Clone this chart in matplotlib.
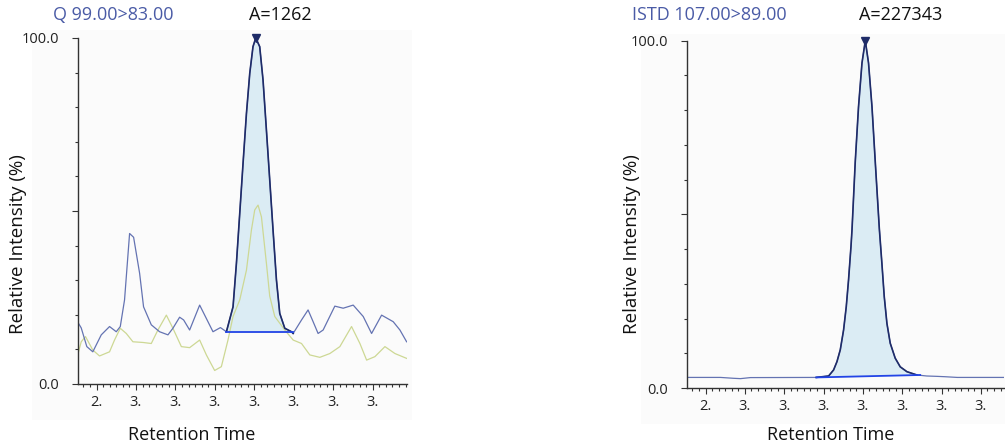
import numpy as np
import matplotlib.pyplot as plt
from matplotlib.patches import Rectangle

plt.rcParams['font.family'] = ['Open Sans', 'DejaVu Sans']

# Chart data
# Q 99.00>83.00 (quantifier, blue) and qualifier (yellow-green)
q_rt = [2.9272, 2.9306, 2.9377, 2.9453, 2.9560, 2.9665, 2.9750, 2.9801, 2.9855,
        2.9919, 2.9970, 3.0046, 3.0096, 3.0194, 3.0299, 3.0405, 3.0468, 3.0553,
        3.0604, 3.0680, 3.0807, 3.0976, 3.1070, 3.1146, 3.1230, 3.1273, 3.1315,
        3.1357, 3.1400, 3.1442, 3.1483, 3.1518, 3.1568, 3.1610, 3.1653, 3.1695,
        3.1737, 3.1780, 3.1822, 3.1886, 3.1971, 3.1992, 3.2098, 3.2181, 3.2245,
        3.2308, 3.2372, 3.2520, 3.2626, 3.2753, 3.2880, 3.2986, 3.3113, 3.3260,
        3.3345, 3.3430]
q_int = [17.5, 16.2, 10.8, 9.3, 14.2, 16.6, 15.1, 16.6, 24.3,
         43.5, 42.4, 32.0, 22.3, 17.1, 15.1, 14.2, 16.1, 19.3,
         18.5, 15.6, 22.8, 15.1, 16.3, 15.1, 22.3, 34.9, 49.3,
         63.8, 78.2, 89.8, 97.5, 100.0, 97.5, 87.9, 73.4, 59.0,
         44.5, 30.1, 20.4, 16.1, 15.1, 14.6, 18.5, 21.4, 18.0,
         14.6, 15.6, 22.5, 21.9, 22.8, 19.5, 14.6, 19.9, 18.0,
         15.6, 12.2]

qual_rt = [2.9272, 2.9306, 2.9360, 2.9453, 2.9538, 2.9665, 2.9728, 2.9801, 2.9877,
           2.9961, 3.0088, 3.0194, 3.0278, 3.0385, 3.0468, 3.0575, 3.0680, 3.0807,
           3.0892, 3.0997, 3.1082, 3.1166, 3.1230, 3.1315, 3.1400, 3.1463, 3.1505,
           3.1547, 3.1590, 3.1653, 3.1695, 3.1759, 3.1886, 3.1992, 3.2098, 3.2203,
           3.2330, 3.2457, 3.2584, 3.2732, 3.2838, 3.2923, 3.3028, 3.3155, 3.3282,
           3.3430]
qual_int = [9.3, 12.2, 13.7, 9.8, 8.1, 9.3, 12.7, 16.1, 14.6,
            12.2, 12.0, 11.7, 15.6, 19.9, 16.1, 10.8, 10.5, 12.7,
            8.4, 3.9, 5.0, 12.7, 19.5, 24.3, 32.9, 44.5, 50.3,
            51.7, 48.3, 34.9, 25.4, 19.5, 15.6, 12.7, 11.7, 8.4,
            7.7, 8.8, 10.8, 16.6, 11.7, 6.9, 7.9, 10.8, 8.8,
            7.4]

q_start, q_end = 3.1146, 3.1992
q_base = [14.9, 14.9]
q_apex = 3.1520

# ISTD 107.00>89.00
istd_rt = [2.9272, 2.9690, 2.9855, 2.9944, 3.0071, 3.0909, 3.1065, 3.1128, 3.1171,
           3.1213, 3.1255, 3.1289, 3.1318, 3.1349, 3.1362, 3.1403, 3.1445, 3.1489,
           3.1531, 3.1572, 3.1616, 3.1658, 3.1709, 3.1742, 3.1772, 3.1806, 3.1848,
           3.1911, 3.1975, 3.2060, 3.2187, 3.2313, 3.2450, 3.2546, 3.2700, 3.3294]
istd_int = [3.05, 3.05, 2.8, 2.7, 3.0, 3.05, 3.46, 5.2, 7.6,
            11.0, 16.7, 23.4, 31.1, 40.7, 45.5, 65.0, 81.0, 93.6,
            100.0, 93.6, 81.0, 65.0, 46.0, 35.9, 26.3, 18.6, 12.9,
            8.6, 6.1, 4.7, 3.75, 3.46, 3.35, 3.25, 3.05, 3.05]
istd_start, istd_end = 3.0909, 3.2229
istd_base = [3.05, 3.75]
istd_apex = 3.1531

tick_pos = [2.95, 3.00, 3.05, 3.10, 3.15, 3.20, 3.25, 3.30]
tick_lab = ['2.', '3.', '3.', '3.', '3.', '3.', '3.', '3.']

trace_c = '#6473b2'
peak_c = '#1f2c68'
fill_c = '#dbecf4'
base_c = '#2244e6'
qual_c = '#cdd894'
title_c = '#4a5ba6'

fig = plt.figure(figsize=(10.05, 4.48), dpi=100)

# faint background panels
fig.patches.append(Rectangle((0.032, 0.062), 0.378, 0.87, transform=fig.transFigure,
                             facecolor='#fbfbfb', edgecolor='none', zorder=-10))
fig.patches.append(Rectangle((0.638, 0.053), 0.362, 0.87, transform=fig.transFigure,
                             facecolor='#fbfbfb', edgecolor='none', zorder=-10))


def peak_panel(ax, rt, inten, start, end, base, apex, xlim):
    rt = np.array(rt)
    inten = np.array(inten)
    ax.plot(rt, inten, color=trace_c, lw=0.9, zorder=2)
    m = (rt >= start) & (rt <= end)
    bl = np.interp(rt[m], [start, end], base)
    ax.fill_between(rt[m], bl, inten[m], color=fill_c, lw=0, zorder=1)
    ax.plot(rt[m], inten[m], color=peak_c, lw=1.2, zorder=3)
    ax.plot([start, end], base, color=base_c, lw=1.3, zorder=4)
    ax.plot([apex], [100], marker='v', color=peak_c, ms=6, clip_on=False, zorder=5)

    ax.set_xlim(*xlim)
    ax.set_ylim(0, 100)
    ax.set_facecolor('none')
    for s in ['top', 'right']:
        ax.spines[s].set_visible(False)
    for s in ['left', 'bottom']:
        ax.spines[s].set_color('#333333')
        ax.spines[s].set_linewidth(1.0)

    ax.set_yticks([0, 50, 100])
    ax.set_yticklabels(['0.0', '', '100.0'])
    ax.set_yticks(np.arange(10, 100, 10), minor=True)
    ax.set_xticks(tick_pos)
    ax.set_xticklabels(tick_lab)
    step = 0.05 / 6
    minor = 2.95 + step * np.arange(-3, 50)
    ax.set_xticks(minor[(minor > xlim[0]) & (minor < xlim[1])], minor=True)
    ax.tick_params(axis='both', which='major', length=4.5, width=0.8, color='#333333',
                   labelsize=10.5, labelcolor='#222222')
    ax.tick_params(axis='both', which='minor', length=2.5, width=0.8, color='#333333')
    ax.tick_params(axis='y', which='major', pad=9)
    ax.tick_params(axis='x', which='major', pad=3.5)


ax1 = fig.add_axes([0.0776, 0.1429, 0.327, 0.7723])
peak_panel(ax1, q_rt, q_int, q_start, q_end, q_base, q_apex, (2.9265, 3.343))
ax1.plot(qual_rt, qual_int, color=qual_c, lw=0.9, zorder=1.5)

ax2 = fig.add_axes([0.6836, 0.1339, 0.3154, 0.7752])
peak_panel(ax2, istd_rt, istd_int, istd_start, istd_end, istd_base, istd_apex,
           (2.9265, 3.3294))

# titles and axis labels
fig.text(53 / 1005, 1 - 15 / 448, 'Q 99.00>83.00', color=title_c, fontsize=13,
         va='center', ha='left')
fig.text(280 / 1005, 1 - 15 / 448, 'A=1262', color='#111111', fontsize=13,
         va='center', ha='center')
fig.text(632 / 1005, 1 - 15 / 448, 'ISTD 107.00>89.00', color=title_c, fontsize=13,
         va='center', ha='left')
fig.text(901 / 1005, 1 - 15 / 448, 'A=227343', color='#111111', fontsize=13,
         va='center', ha='center')

fig.text(18 / 1005, 1 - 244 / 448, 'Relative Intensity (%)', rotation=90,
         fontsize=13.5, va='center', ha='center', color='#111111')
fig.text(632 / 1005, 1 - 244 / 448, 'Relative Intensity (%)', rotation=90,
         fontsize=13.5, va='center', ha='center', color='#111111')
fig.text(192 / 1005, 1 - 435 / 448, 'Retention Time', fontsize=13,
         va='center', ha='center', color='#111111')
fig.text(831 / 1005, 1 - 435 / 448, 'Retention Time', fontsize=13,
         va='center', ha='center', color='#111111')

fig.savefig('out.png', dpi=100)
